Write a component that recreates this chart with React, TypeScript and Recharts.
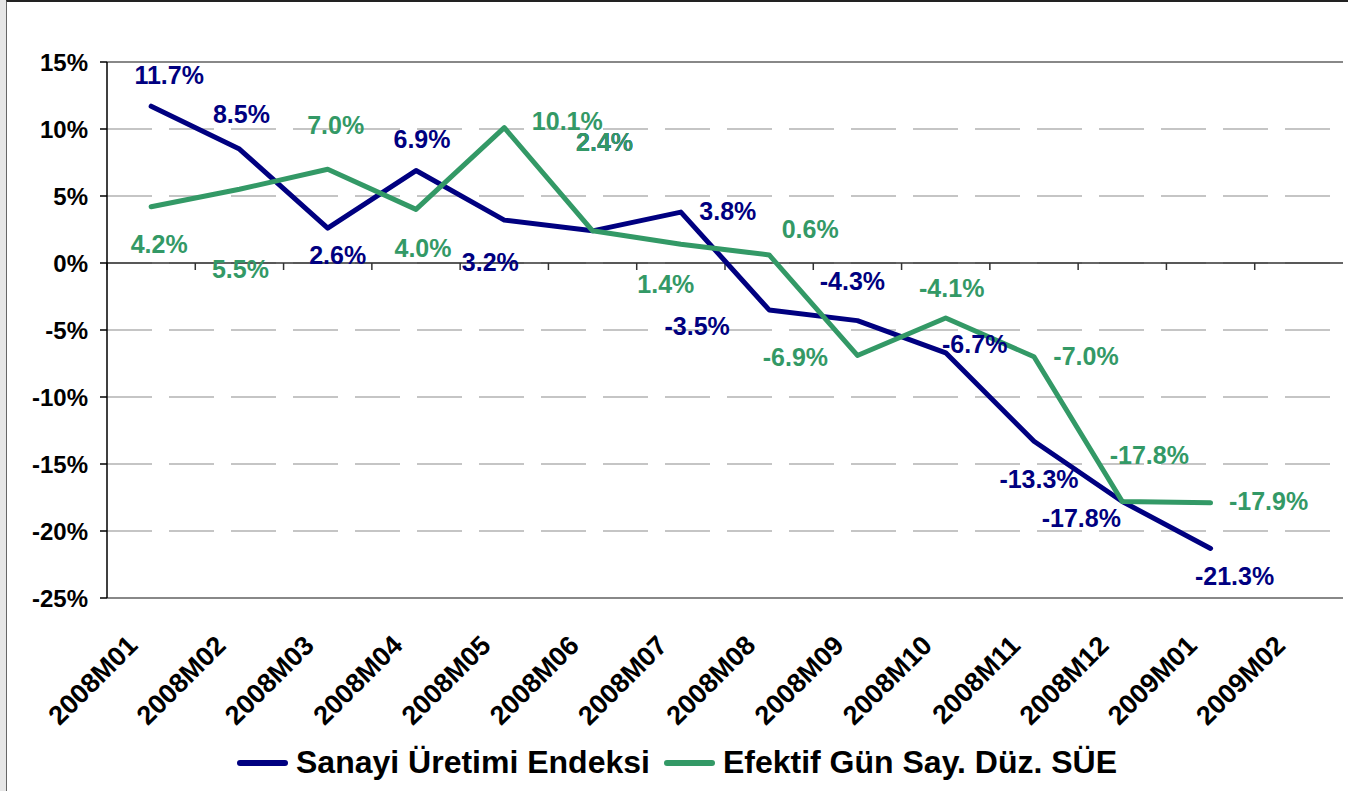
import React from "react";
import {
  LineChart,
  Line,
  XAxis,
  YAxis,
  CartesianGrid,
  ReferenceLine,
} from "recharts";

const months = [
  "2008M01", "2008M02", "2008M03", "2008M04", "2008M05", "2008M06", "2008M07",
  "2008M08", "2008M09", "2008M10", "2008M11", "2008M12", "2009M01", "2009M02",
];

// Sanayi Üretimi Endeksi (yıllık % değişim)
const sueValues = [11.7, 8.5, 2.6, 6.9, 3.2, 2.4, 3.8, -3.5, -4.3, -6.7, -13.3, -17.8, -21.3, null];
// Efektif gün sayısına göre düzeltilmiş SÜE
const efektifValues = [4.2, 5.5, 7.0, 4.0, 10.1, 2.4, 1.4, 0.6, -6.9, -4.1, -7.0, -17.8, -17.9, null];

const yTicks = [15, 10, 5, 0, -5, -10, -15, -20, -25];

// label placement (dx, dy from the point), as in the original sheet
const sueLabelOffset = [
  [18, -31], [2, -35], [10, 27], [6, -32], [-14, 42], [12, -89], [47, -1],
  [-72, 16], [-5, -40], [29, -9], [5, 38], [-41, 16], [24, 28], [0, 0],
];
const efektifLabelOffset = [
  [8, 37], [1, 80], [8, -44], [7, 39], [63, -7], [12, -89], [-15, 40],
  [41, -26], [-62, 2], [6, -30], [52, -1], [27, -47], [58, -2], [0, 0],
];

const NAVY = "#000080";
const GREEN = "#339966";
const FONT = "'Liberation Sans', Arial, sans-serif";

const data = months.map((m, i) => ({
  month: m,
  sue: sueValues[i],
  efektif: efektifValues[i],
}));

const fmt = (v: number) => `${v.toFixed(1)}%`;

function makeLabel(color: string, offsets: number[][]) {
  return (props: any) => {
    const { x, y, index, value } = props;
    if (value === null || value === undefined) return null;
    const [dx, dy] = offsets[index] || [0, 0];
    return (
      <text
        x={x + dx}
        y={y + dy}
        fill={color}
        textAnchor="middle"
        dominantBaseline="central"
        fontFamily={FONT}
        fontWeight="bold"
        fontSize={25}
      >
        {fmt(Number(value))}
      </text>
    );
  };
}

function MonthTick(props: any) {
  const { x, y, payload } = props;
  const tx = x - 12;
  const ty = y + 41;
  return (
    <text
      x={tx}
      y={ty}
      transform={`rotate(-45, ${tx}, ${ty})`}
      textAnchor="end"
      fontFamily={FONT}
      fontWeight="bold"
      fontSize={27}
      fill="#000"
    >
      {payload.value}
    </text>
  );
}

// zero line with small tick marks between the months
function ZeroLine(props: any) {
  const { x1, y1, x2 } = props;
  const step = (x2 - x1) / months.length;
  return (
    <g>
      <line x1={x1} y1={y1} x2={x2} y2={y1} stroke="#333" strokeWidth={1.5} />
      {months.map((m, i) => (
        <line key={m} x1={x1 + step * i} y1={y1} x2={x1 + step * i} y2={y1 + 7} stroke="#333" strokeWidth={1.5} />
      ))}
    </g>
  );
}

function LegendItem({ color, text }: { color: string; text: string }) {
  return (
    <div style={{ display: "flex", alignItems: "center", marginRight: 14 }}>
      <div style={{ width: 51, height: 6, borderRadius: 3, background: color, marginRight: 8 }} />
      <span style={{ fontFamily: FONT, fontWeight: "bold", fontSize: 32, color: "#000" }}>{text}</span>
    </div>
  );
}

export default function App() {
  return (
    <div style={{ position: "absolute", left: 0, top: 0, width: 1348, height: 791, background: "#e6e6e6", overflow: "hidden" }}>
      <div
        style={{
          position: "absolute",
          left: 6,
          top: 0,
          width: 1342,
          height: 791,
          background: "#fff",
          borderLeft: "1.5px solid #666",
          borderTop: "2px solid #222",
          boxSizing: "border-box",
        }}
      />
      <div style={{ position: "absolute", left: 0, top: 0 }}>
        <LineChart width={1348} height={791} data={data} margin={{ top: 62, right: 5, bottom: 0, left: 0 }}>
          <CartesianGrid vertical={false} stroke="#b3b3b3" strokeWidth={1.5} strokeDasharray="45 17" />
          <XAxis
            dataKey="month"
            scale="band"
            height={193}
            interval={0}
            tick={<MonthTick />}
            tickLine={false}
            axisLine={{ stroke: "#888", strokeWidth: 2 }}
          />
          <YAxis
            domain={[-25, 15]}
            ticks={yTicks}
            interval={0}
            width={107}
            tickFormatter={(v) => `${v}%`}
            tick={{ fontFamily: FONT, fontWeight: "bold", fontSize: 24, fill: "#000" }}
            tickSize={7}
            tickMargin={12}
            axisLine={{ stroke: "#000", strokeWidth: 1.5 }}
            tickLine={{ stroke: "#000", strokeWidth: 1.5 }}
          />
          <YAxis
            yAxisId="right"
            orientation="right"
            domain={[-25, 15]}
            width={0}
            tick={false}
            tickLine={false}
            axisLine={{ stroke: "#888", strokeWidth: 2 }}
          />
          <ReferenceLine y={15} stroke="#888" strokeWidth={2} />
          <ReferenceLine y={0} shape={<ZeroLine />} />
          <Line
            type="linear"
            dataKey="sue"
            stroke={NAVY}
            strokeWidth={5}
            strokeLinecap="round"
            strokeLinejoin="round"
            dot={false}
            activeDot={false}
            isAnimationActive={false}
            label={makeLabel(NAVY, sueLabelOffset)}
          />
          <Line
            type="linear"
            dataKey="efektif"
            stroke={GREEN}
            strokeWidth={5}
            strokeLinecap="round"
            strokeLinejoin="round"
            dot={false}
            activeDot={false}
            isAnimationActive={false}
            label={makeLabel(GREEN, efektifLabelOffset)}
          />
        </LineChart>
      </div>
      <div style={{ position: "absolute", left: 237, top: 744, display: "flex", alignItems: "center" }}>
        <LegendItem color={NAVY} text="Sanayi Üretimi Endeksi" />
        <LegendItem color={GREEN} text="Efektif Gün Say. Düz. SÜE" />
      </div>
    </div>
  );
}
